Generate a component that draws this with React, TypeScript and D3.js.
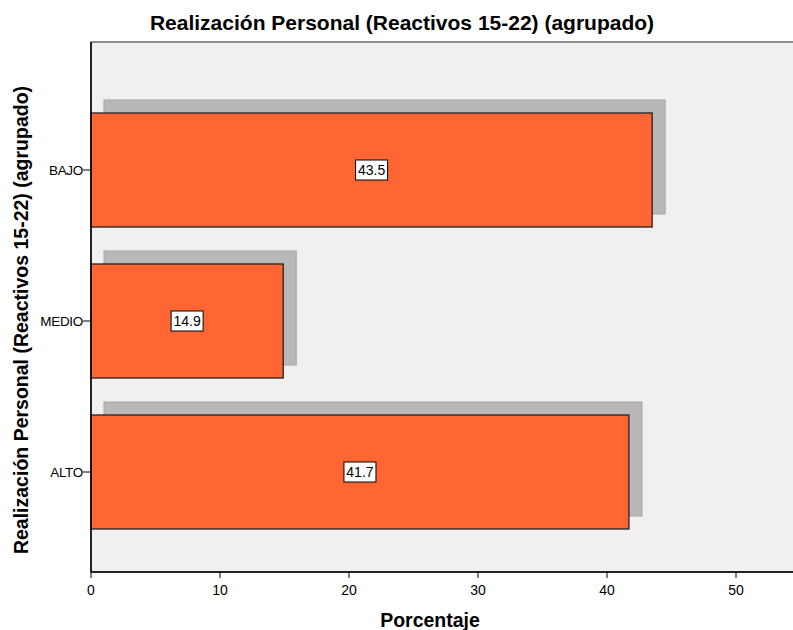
import React from "react";
import * as d3 from "d3";

const categories = ["BAJO", "MEDIO", "ALTO"];
const values = [43.5, 14.9, 41.7];
const xTicks = [0, 10, 20, 30, 40, 50];

const W = 793;
const H = 630;
const left = 91;
const top = 42;
const bottom = 572;
const FONT = "'Liberation Sans', Arial, sans-serif";

export default function App() {
  const x = d3.scaleLinear().domain([0, 50]).range([left, 736]);
  const y = d3
    .scaleBand<string>()
    .domain(categories)
    .range([94.5, 547.5])
    .paddingInner(0.245)
    .paddingOuter(0.1225);
  const off = 13;
  const bh = y.bandwidth();

  return (
    <svg width={W} height={H} style={{ position: "absolute", left: 0, top: 0 }}>
      <rect x={0} y={0} width={W} height={H} fill="#fff" />
      <text x={402} y={30} textAnchor="middle" fontFamily={FONT} fontWeight="bold" fontSize={21} fill="#000">
        Realización Personal (Reactivos 15-22) (agrupado)
      </text>
      <rect x={left} y={top} width={W - left + 5} height={bottom - top} fill="#f0f0f0" stroke="#222" strokeWidth={1} />
      {categories.map((c, i) => {
        const y0 = y(c)!;
        return (
          <rect
            key={"s" + c}
            x={x(0) + off}
            y={y0 - off}
            width={x(values[i]) - x(0)}
            height={bh}
            fill="#b8b8b8"
            stroke="#a3a3a3"
            strokeWidth={1}
          />
        );
      })}
      {categories.map((c, i) => {
        const y0 = y(c)!;
        return (
          <rect
            key={"b" + c}
            x={x(0)}
            y={y0}
            width={x(values[i]) - x(0)}
            height={bh}
            fill="#ff6633"
            stroke="#222"
            strokeWidth={1.3}
          />
        );
      })}
      {categories.map((c, i) => {
        const cx = (x(0) + x(values[i])) / 2;
        const cy = y(c)! + bh / 2;
        const label = values[i].toFixed(1);
        return (
          <g key={"l" + c}>
            <rect x={cx - 16} y={cy - 10} width={32} height={20} fill="#fff" stroke="#000" strokeWidth={1} />
            <text x={cx} y={cy + 5} textAnchor="middle" fontFamily={FONT} fontSize={14} fill="#000">
              {label}
            </text>
          </g>
        );
      })}
      {/* left axis */}
      <line x1={left} x2={left} y1={top} y2={bottom} stroke="#000" strokeWidth={1.5} />
      {categories.map((c) => {
        const cy = y(c)! + bh / 2;
        return (
          <g key={"t" + c}>
            <line x1={left - 8} x2={left} y1={cy} y2={cy} stroke="#000" strokeWidth={1} />
            <text x={left - 8} y={cy + 5} textAnchor="end" fontFamily={FONT} fontSize={13.5} letterSpacing={-0.3} fill="#000">
              {c}
            </text>
          </g>
        );
      })}
      {/* bottom axis */}
      <line x1={left} x2={W} y1={bottom} y2={bottom} stroke="#000" strokeWidth={1.5} />
      {xTicks.map((t) => (
        <g key={"x" + t}>
          <line x1={x(t)} x2={x(t)} y1={bottom} y2={bottom + 6} stroke="#000" strokeWidth={1} />
          <text x={x(t)} y={bottom + 23} textAnchor="middle" fontFamily={FONT} fontSize={14} fill="#000">
            {t}
          </text>
        </g>
      ))}
      <text x={430} y={627} textAnchor="middle" fontFamily={FONT} fontWeight="bold" fontSize={19.5} fill="#000">
        Porcentaje
      </text>
      <text
        transform={`translate(28, 320) rotate(-90)`}
        textAnchor="middle"
        fontFamily={FONT}
        fontWeight="bold"
        fontSize={19.5}
        fill="#000"
      >
        Realización Personal (Reactivos 15-22) (agrupado)
      </text>
    </svg>
  );
}
